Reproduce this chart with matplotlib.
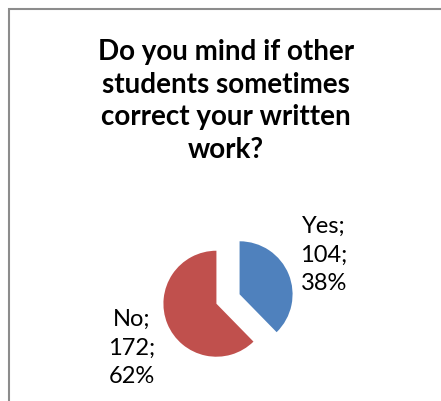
import matplotlib
matplotlib.use("Agg")
import matplotlib.pyplot as plt
from matplotlib.patches import Rectangle

# Survey answers
categories = ["Yes", "No"]
counts = [104, 172]
colors = ["#4F81BD", "#C0504D"]
title = "Do you mind if other\nstudents sometimes\ncorrect your written\nwork?"

W, H = 441, 402
fig = plt.figure(figsize=(W / 100, H / 100), dpi=100)
ax = fig.add_axes([0, 0, 1, 1])

font = "Lato"

radius = 53
total = sum(counts)
ax.pie(counts, colors=colors, startangle=90, counterclock=False,
       radius=radius, center=(228, H - 300), explode=[12.5, 12.5],
       wedgeprops=dict(linewidth=0), frame=True)
ax.set_xlim(0, W)
ax.set_ylim(0, H)
ax.set_aspect("equal")
ax.axis("off")

# chart area border (extends past the image edges on right and bottom)
ax.add_patch(Rectangle((9, -20), 500, H - 10 + 20, fill=False,
                       edgecolor="#8c8c8c", linewidth=1.5))

ax.text(226, H - 101, title, ha="center", va="center", fontsize=20,
        fontweight="bold", family=font, linespacing=1.32, color="black")

label_pos = {"Yes": (324, H - 255), "No": (132, H - 348)}
for name, val in zip(categories, counts):
    pct = round(100 * val / total)
    x, y = label_pos[name]
    ax.text(x, y, f"{name};\n{val};\n{pct}%", ha="center", va="center",
            fontsize=17, family=font, linespacing=1.45, color="black")

fig.savefig("out.png", dpi=100)
